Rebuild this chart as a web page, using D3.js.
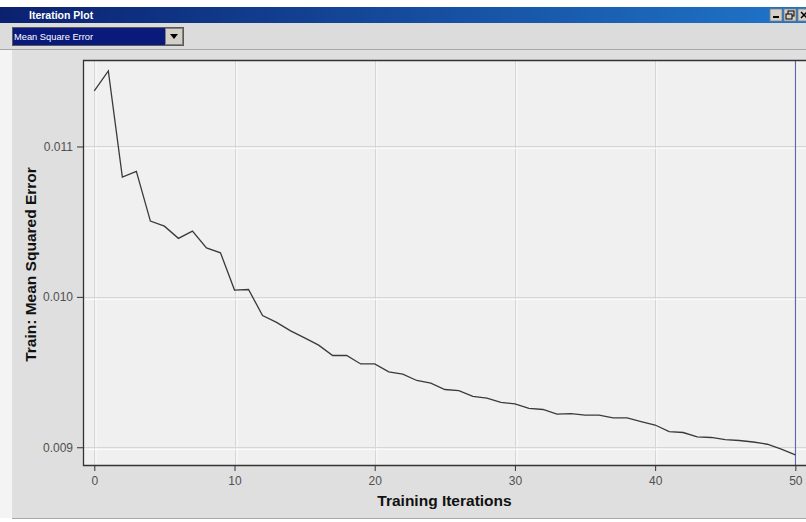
<!DOCTYPE html>
<html>
<head>
<meta charset="utf-8">
<script src="https://cdn.jsdelivr.net/npm/d3@7"></script>
<style>
  html, body { margin: 0; padding: 0; background: #ffffff; }
  svg { display: block; }
</style>
</head>
<body>
<svg id="chart" width="806" height="522"></svg>
<script>
// ---- data ----
const iterations = d3.range(0, 51);
const trainMSE = [
  0.011369, 0.011502, 0.010796, 0.010834, 0.010504, 0.010470, 0.010389, 0.010437, 0.010326, 0.010293,
  0.010045, 0.010049, 0.009876, 0.009830, 0.009774, 0.009727, 0.009679, 0.009610, 0.009610, 0.009554,
  0.009554, 0.009501, 0.009486, 0.009444, 0.009426, 0.009384, 0.009377, 0.009339, 0.009326, 0.009299,
  0.009288, 0.009259, 0.009251, 0.009220, 0.009224, 0.009213, 0.009213, 0.009195, 0.009195, 0.009171,
  0.009148, 0.009104, 0.009098, 0.009069, 0.009065, 0.009051, 0.009045, 0.009035, 0.009020, 0.008987,
  0.008949
];
const xTicks = [0, 10, 20, 30, 40, 50];
const yTicks = [0.009, 0.010, 0.011];
const markerIteration = [50];
const windowTitle = "Iteration Plot";
const dropdownLabel = "Mean Square Error";
const xTitle = "Training Iterations";
const yTitle = "Train: Mean Squared Error";

// ---- layout ----
const W = 806, H = 522;
const plot = { left: 83, top: 60, right: 806, bottom: 465 };
const svg = d3.select("#chart");

// window title bar
const defs = svg.append("defs");
const grad = defs.append("linearGradient").attr("id", "tb").attr("x1", "0").attr("x2", "1");
grad.append("stop").attr("offset", "0").attr("stop-color", "#0b2170");
grad.append("stop").attr("offset", "1").attr("stop-color", "#1f75c9");
svg.append("rect").attr("x", 0).attr("y", 0).attr("width", W).attr("height", H).attr("fill", "#ffffff");
svg.append("rect").attr("x", 0).attr("y", 7).attr("width", W).attr("height", 16).attr("fill", "url(#tb)");
svg.append("text").attr("x", 29).attr("y", 19)
  .attr("font-family", "Liberation Sans, Arial, sans-serif").attr("font-size", 10.5)
  .attr("font-weight", "bold").attr("fill", "#ffffff").text(windowTitle);

// title bar buttons
[770, 784, 798].forEach((bx, i) => {
  const g = svg.append("g");
  g.append("rect").attr("x", bx).attr("y", 9).attr("width", 12).attr("height", 12)
    .attr("fill", "#d4d0c8").attr("stroke", "#808080").attr("stroke-width", 0.8);
  if (i === 0) g.append("rect").attr("x", bx + 3).attr("y", 16).attr("width", 6).attr("height", 2).attr("fill", "#000");
  if (i === 1) {
    g.append("rect").attr("x", bx + 4).attr("y", 11).attr("width", 6).attr("height", 5).attr("fill", "none").attr("stroke", "#000").attr("stroke-width", 1);
    g.append("rect").attr("x", bx + 2).attr("y", 14).attr("width", 6).attr("height", 5).attr("fill", "#d4d0c8").attr("stroke", "#000").attr("stroke-width", 1);
  }
  if (i === 2) {
    g.append("path").attr("d", `M${bx + 3},12 L${bx + 9},18 M${bx + 9},12 L${bx + 3},18`).attr("stroke", "#000").attr("stroke-width", 1.5);
  }
});

// toolbar
svg.append("rect").attr("x", 0).attr("y", 23).attr("width", W).attr("height", 26).attr("fill", "#dcdcdc");
svg.append("line").attr("x1", 0).attr("x2", W).attr("y1", 49.5).attr("y2", 49.5).attr("stroke", "#a8a8a8");
// dropdown
svg.append("rect").attr("x", 12.5).attr("y", 27.5).attr("width", 171).attr("height", 18)
  .attr("fill", "#0a1a7c").attr("stroke", "#5a5a5a");
svg.append("text").attr("x", 14).attr("y", 40)
  .attr("font-family", "Liberation Sans, Arial, sans-serif").attr("font-size", 9.3)
  .attr("fill", "#ffffff").text(dropdownLabel);
svg.append("rect").attr("x", 165.5).attr("y", 28.5).attr("width", 17).attr("height", 16)
  .attr("fill", "#d4d0c8").attr("stroke", "#808080");
svg.append("path").attr("d", "M170,34 L178,34 L174,39 Z").attr("fill", "#000");

// chart panel
svg.append("rect").attr("x", 12).attr("y", 50).attr("width", W - 12).attr("height", 468).attr("fill", "#dfdfdf");
svg.append("rect").attr("x", 0).attr("y", 50).attr("width", 12).attr("height", 468).attr("fill", "#f4f4f4");
svg.append("line").attr("x1", 12).attr("x2", W).attr("y1", 518.5).attr("y2", 518.5).attr("stroke", "#a8a8a8");

// scales
const x = d3.scaleLinear().domain([-0.806, 50.76]).range([plot.left, plot.right]);
const y = d3.scaleLinear().domain([0.008882, 0.011575]).range([plot.bottom, plot.top]);

// plot background
svg.append("rect").attr("x", plot.left).attr("y", plot.top)
  .attr("width", plot.right - plot.left).attr("height", plot.bottom - plot.top).attr("fill", "#f0f0f0");

// gridlines (gray line with a white highlight)
const grid = svg.append("g");
xTicks.forEach(t => {
  const px = Math.round(x(t)) + 0.5;
  grid.append("line").attr("x1", px).attr("x2", px).attr("y1", plot.top).attr("y2", plot.bottom).attr("stroke", "#d6d6d6");
  grid.append("line").attr("x1", px + 1.5).attr("x2", px + 1.5).attr("y1", plot.top).attr("y2", plot.bottom).attr("stroke", "#fafafa");
});
yTicks.forEach(t => {
  const py = Math.round(y(t)) + 0.5;
  grid.append("line").attr("x1", plot.left).attr("x2", plot.right).attr("y1", py).attr("y2", py).attr("stroke", "#d6d6d6");
  grid.append("line").attr("x1", plot.left).attr("x2", plot.right).attr("y1", py + 2).attr("y2", py + 2).attr("stroke", "#fafafa");
});

// marker line at current iteration
svg.selectAll(".marker").data(markerIteration).enter().append("line")
  .attr("class", "marker")
  .attr("x1", d => Math.round(x(d)) + 0.5).attr("x2", d => Math.round(x(d)) + 0.5)
  .attr("y1", plot.top).attr("y2", plot.bottom)
  .attr("stroke", "#6666aa").attr("stroke-width", 1.2);

// data line
const line = d3.line().x((d, i) => x(iterations[i])).y(d => y(d));
svg.append("path").datum(trainMSE).attr("d", line)
  .attr("fill", "none").attr("stroke", "#3a3a3a").attr("stroke-width", 1.3);

// border (top, left, bottom)
svg.append("path")
  .attr("d", `M${plot.right},${plot.top + 0.5} L${plot.left + 0.5},${plot.top + 0.5} L${plot.left + 0.5},${plot.bottom + 0.5} L${plot.right},${plot.bottom + 0.5}`)
  .attr("fill", "none").attr("stroke", "#333333").attr("stroke-width", 1.3);

// axes
const font = "Liberation Sans, Arial, sans-serif";
const xAxis = svg.append("g").attr("transform", `translate(0,${plot.bottom})`)
  .call(d3.axisBottom(x).tickValues(xTicks).tickSize(6).tickPadding(5).tickFormat(d3.format("d")));
const yAxis = svg.append("g").attr("transform", `translate(${plot.left},0)`)
  .call(d3.axisLeft(y).tickValues(yTicks).tickSize(6).tickPadding(4).tickFormat(d3.format(".3f")));
[xAxis, yAxis].forEach(a => {
  a.select(".domain").remove();
  a.selectAll(".tick line").attr("stroke", "#333");
  a.selectAll(".tick text").attr("font-family", font).attr("font-size", 12).attr("fill", "#505050");
});

// axis titles
svg.append("text").attr("x", (plot.left + plot.right) / 2).attr("y", 506)
  .attr("text-anchor", "middle").attr("font-family", font).attr("font-size", 15.5)
  .attr("font-weight", "bold").attr("fill", "#111").text(xTitle);
svg.append("text").attr("transform", `translate(36,${(plot.top + plot.bottom) / 2 + 2}) rotate(-90)`)
  .attr("text-anchor", "middle").attr("font-family", font).attr("font-size", 15.5)
  .attr("font-weight", "bold").attr("fill", "#111").text(yTitle);
</script>
</body>
</html>
